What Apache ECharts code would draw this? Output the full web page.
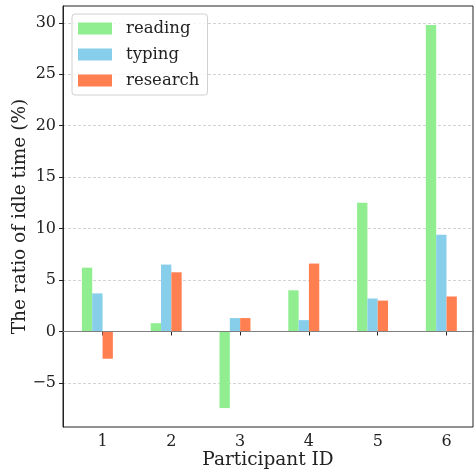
<!DOCTYPE html>
<html>
<head>
<meta charset="utf-8">
<script src="https://cdn.jsdelivr.net/npm/echarts@6/dist/echarts.min.js"></script>
<style>
html,body{margin:0;padding:0;background:#fff;}
#chart{width:474px;height:472px;}
</style>
</head>
<body>
<div id="chart"></div>
<script>
const participants = [1, 2, 3, 4, 5, 6];
const seriesNames = ['reading', 'typing', 'research'];
const reading  = [6.2, 0.8, -7.45, 4.0, 12.5, 29.8];
const typing   = [3.7, 6.5, 1.3, 1.1, 3.2, 9.4];
const research = [-2.65, 5.75, 1.3, 6.6, 3.0, 3.4];
const colors = ['#90EE90', '#87CEEB', '#FF7F50'];
const xMin = 0.425, xMax = 6.385;
const yMin = -9.29, yMax = 31.64;

const values = [reading, typing, research];
const font = 'DejaVu Serif';

const series = seriesNames.map((name, i) => ({
  name: name,
  type: 'bar',
  barWidth: '15%',
  barGap: '0%',
  itemStyle: { color: colors[i] },
  data: participants.map((p, j) => [p, values[i][j]])
}));
// empty slot so the visible bars sit left-aligned like the original
series.push({
  name: '_pad',
  type: 'bar',
  barWidth: '15%',
  barGap: '0%',
  silent: true,
  data: participants.map(p => [p, null])
});
series[0].markLine = {
  silent: true,
  symbol: 'none',
  label: { show: false },
  lineStyle: { color: '#808080', width: 1, type: 'solid' },
  data: [{ yAxis: 0 }],
  animation: false
};

const chart = echarts.init(document.getElementById('chart'));
chart.setOption({
  animation: false,
  backgroundColor: '#fff',
  grid: {
    left: 63, top: 6, right: 1, bottom: 45,
    containLabel: false,
    outerBoundsMode: 'none',
    show: true, borderColor: '#222', borderWidth: 1
  },
  legend: {
    data: seriesNames,
    orient: 'vertical',
    left: 72, top: 14,
    itemWidth: 34, itemHeight: 12, itemGap: 9,
    padding: [6, 8, 6, 6],
    backgroundColor: 'rgba(255,255,255,0.8)',
    borderColor: '#d0d0d0', borderWidth: 1, borderRadius: 3,
    icon: 'rect',
    textStyle: { fontFamily: font, fontSize: 16.5, color: '#222', lineHeight: 16, padding: [0, 0, 0, 9] }
  },
  xAxis: {
    type: 'value',
    min: xMin, max: xMax,
    name: 'Participant ID',
    nameLocation: 'middle',
    nameGap: 24,
    nameMoveOverlap: false,
    nameTextStyle: { fontFamily: font, fontSize: 18.5, color: '#222' },
    axisLine: { show: true, lineStyle: { color: '#222', width: 1 } },
    axisTick: { show: true, length: 4, lineStyle: { color: '#222' } },
    axisLabel: {
      fontFamily: font, fontSize: 16, color: '#222', margin: 7,
      showMinLabel: false, showMaxLabel: false,
      formatter: v => Number.isInteger(v) ? String(v) : ''
    },
    splitLine: { show: false }
  },
  yAxis: {
    type: 'value',
    min: yMin, max: yMax,
    splitNumber: 8,
    name: 'The ratio of idle time (%)',
    nameLocation: 'middle',
    nameGap: 33,
    nameMoveOverlap: false,
    nameTextStyle: { fontFamily: font, fontSize: 18.5, color: '#222' },
    axisLine: { show: true, lineStyle: { color: '#222', width: 1 } },
    axisTick: { show: true, length: 4, lineStyle: { color: '#222' } },
    axisLabel: {
      fontFamily: font, fontSize: 16, color: '#222', margin: 7,
      showMinLabel: false, showMaxLabel: false,
      formatter: v => v < 0 ? '\u2212' + Math.abs(v) : String(v)
    },
    splitLine: {
      show: true, showMinLine: false, showMaxLine: false,
      lineStyle: { color: '#c8c8c8', width: 0.8, type: [3, 2] }
    }
  },
  series: series
});
</script>
</body>
</html>
